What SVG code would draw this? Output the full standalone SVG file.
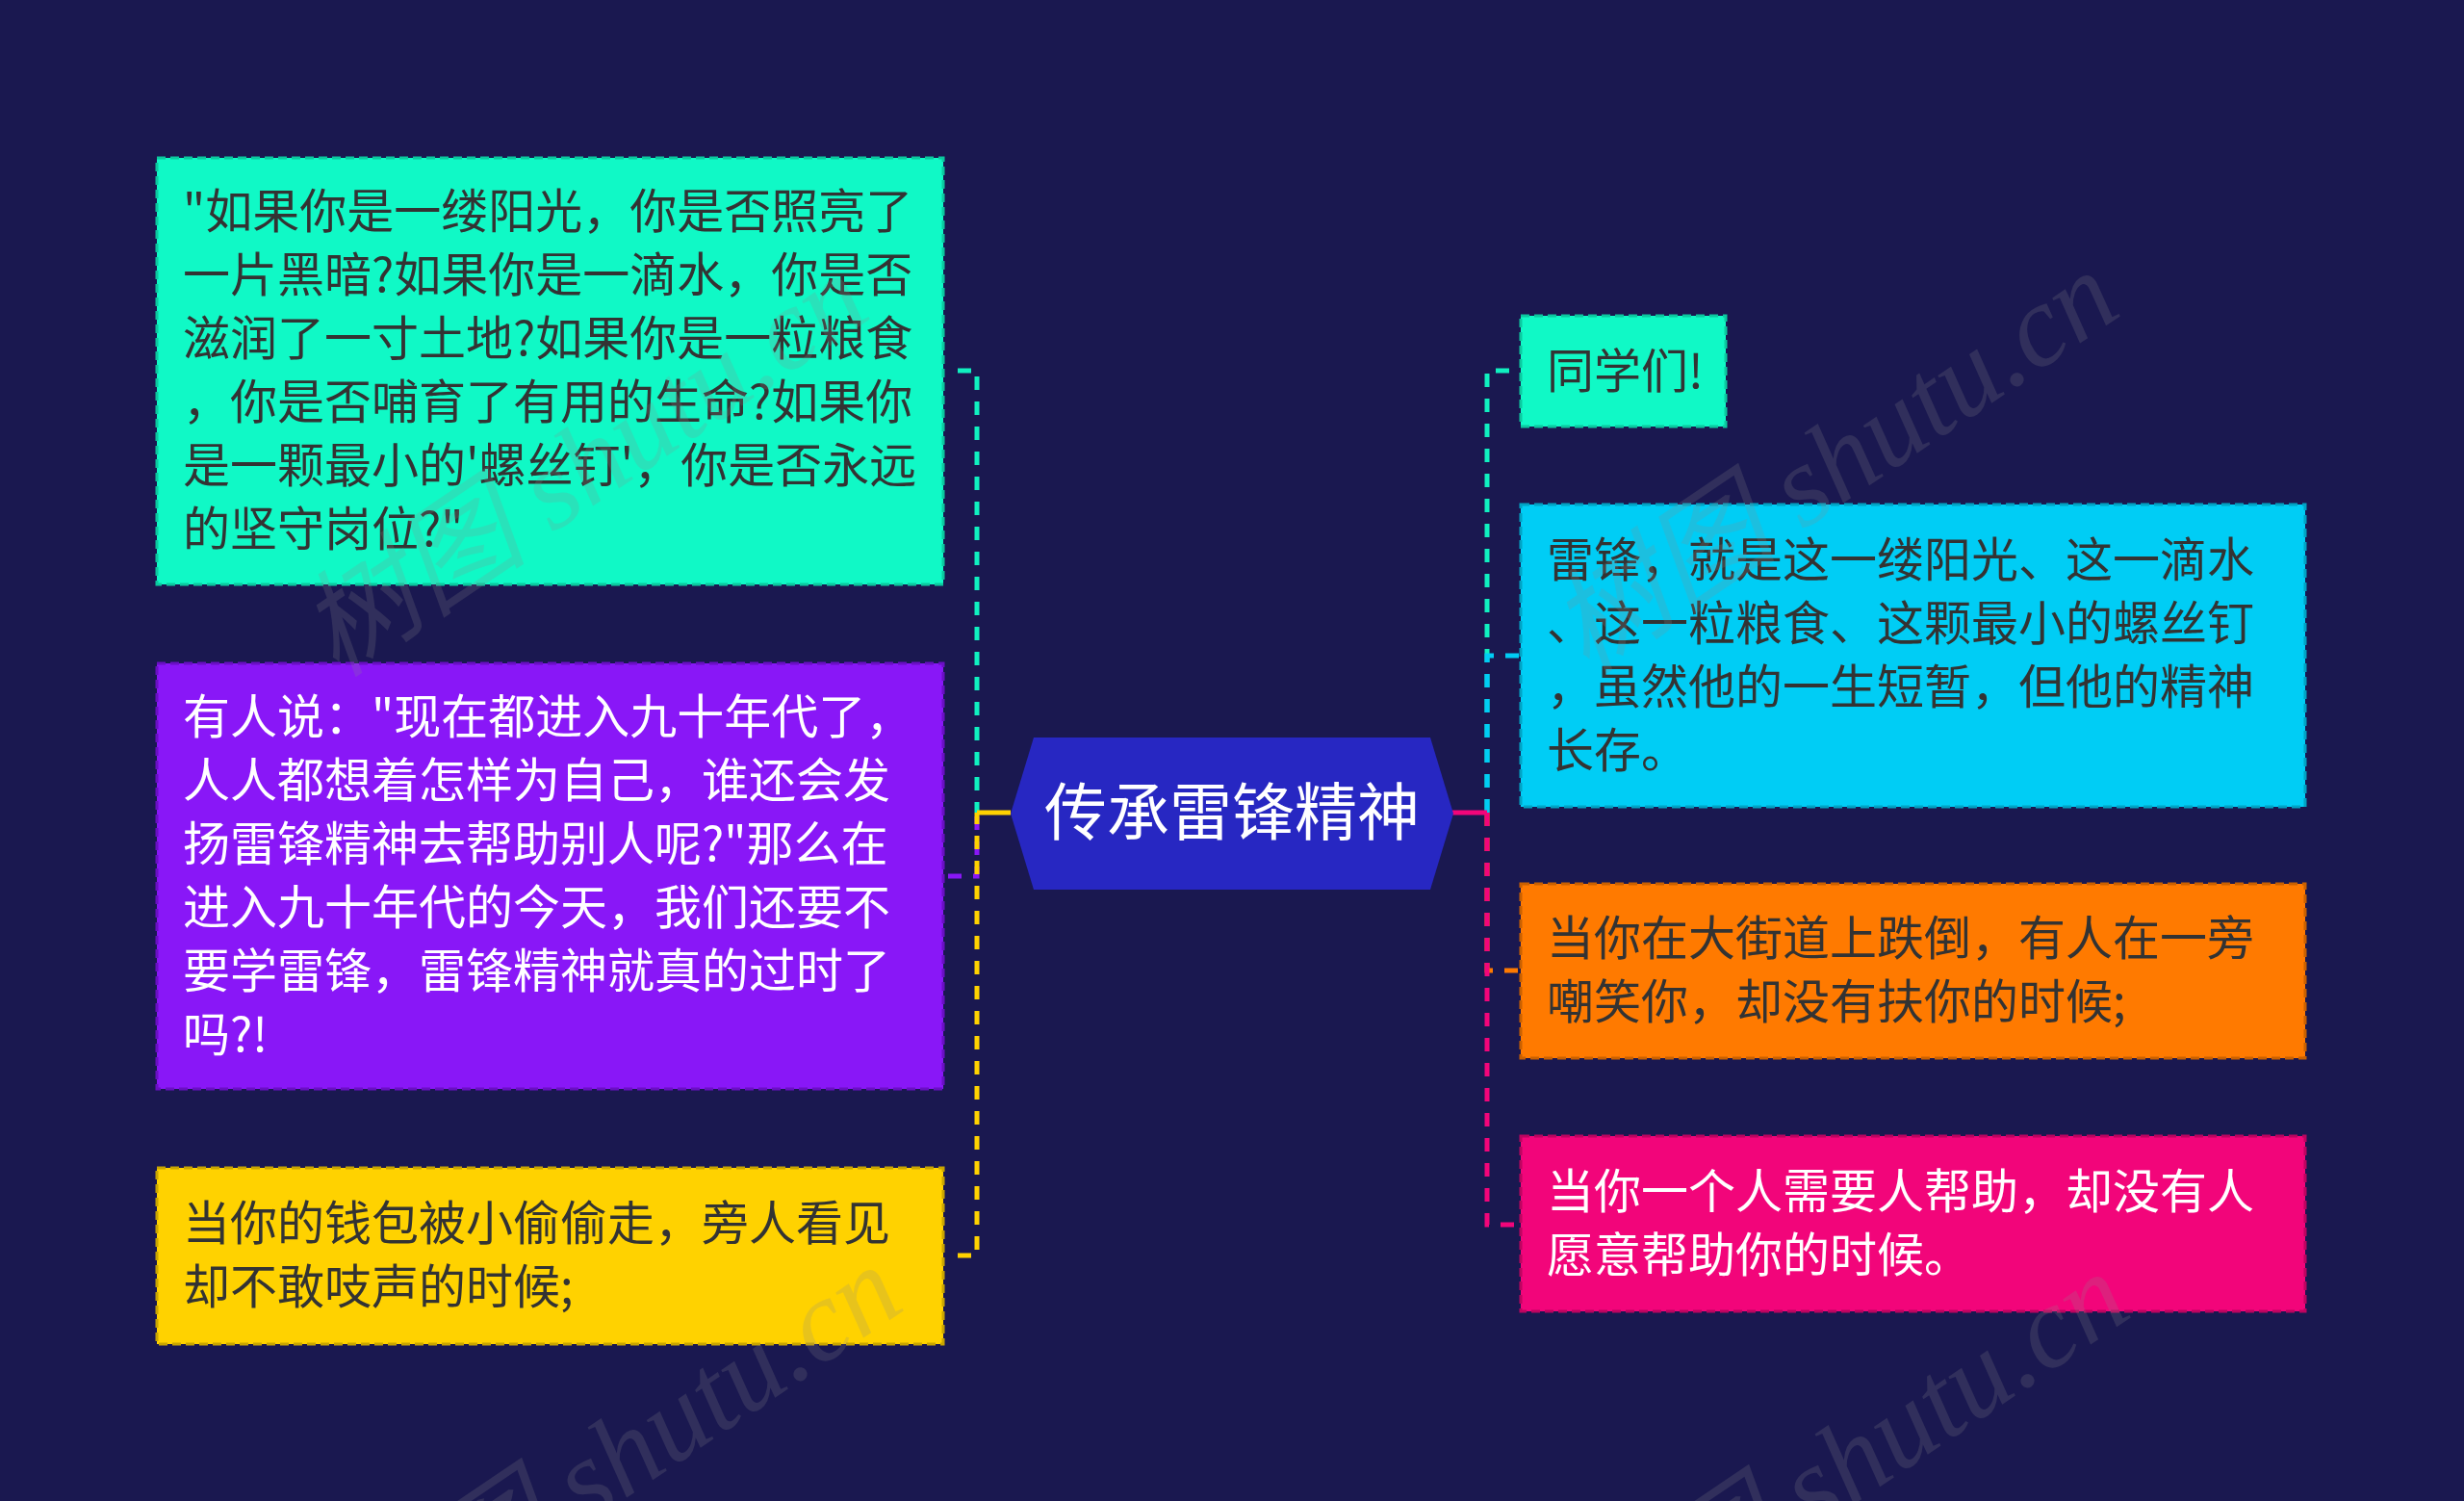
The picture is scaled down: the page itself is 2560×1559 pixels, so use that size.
<svg xmlns="http://www.w3.org/2000/svg" width="2560" height="1559" viewBox="0 0 2560 1559">
<defs>
<style>
.bg{fill:#1a1850}
.box{stroke-width:3;stroke-dasharray:9 5}
.t{font-family:"Noto Sans CJK SC","Noto Sans",sans-serif;font-size:49px}
.dk{fill:#333333}
.wt{fill:#ffffff}
.c{fill:none;stroke-width:5;stroke-dasharray:14 12}
.s{fill:none;stroke-width:5}
.wm{font-family:"Liberation Serif","Noto Sans CJK SC",serif;font-size:120px;font-style:italic;fill:#8c8c8c;opacity:0.2}
</style>
</defs>
<rect class="bg" x="0" y="0" width="2560" height="1559"/>

<g id="connectors">
<path class="c" stroke="#10f0c0" d="M995,385 H1015 V844"/>
<path class="c" stroke="#8917f7" d="M985,910 H1015 V844"/>
<path class="c" stroke="#ffd200" d="M995,1304 H1015 V844"/>
<path class="s" stroke="#ffd200" d="M1015,844 H1050"/>
<path class="c" stroke="#10f0c0" d="M1545,844 V385 H1580"/>
<path class="c" stroke="#00cdf5" d="M1545,844 V681 H1580"/>
<path class="c" stroke="#ff7a00" d="M1545,844 V1008 H1580"/>
<path class="c" stroke="#f2057a" d="M1545,844 V1272 H1580"/>
<path class="s" stroke="#f2057a" d="M1508,844 H1545"/>
</g>

<g id="center">
<polygon points="1050,845 1074,766 1486,766 1510,845 1486,924 1074,924" fill="#2727c2"/>
<text x="1280" y="867" text-anchor="middle" font-family="'Noto Sans CJK SC','Noto Sans',sans-serif" font-size="65" fill="#ffffff">传承雷锋精神</text>
</g>

<g id="node-l1">
<rect class="box" x="163" y="164" width="817" height="443" fill="#10f9c6" stroke="#0bc99f"/>
<text class="t dk" x="190"><tspan x="190" y="237">"如果你是一缕阳光，你是否照亮了</tspan><tspan x="190" y="303">一片黑暗?如果你是一滴水，你是否</tspan><tspan x="190" y="369">滋润了一寸土地?如果你是一粒粮食</tspan><tspan x="190" y="435">，你是否哺育了有用的生命?如果你</tspan><tspan x="190" y="501">是一颗最小的'螺丝钉'，你是否永远</tspan><tspan x="190" y="567">的坚守岗位?"</tspan></text>
</g>

<g id="node-l2">
<rect class="box" x="163" y="689" width="817" height="442" fill="#8917f7" stroke="#6a0fc4"/>
<text class="t wt" x="190"><tspan x="190" y="762">有人说："现在都进入九十年代了，</tspan><tspan x="190" y="828">人人都想着怎样为自己，谁还会发</tspan><tspan x="190" y="894">扬雷锋精神去帮助别人呢?"那么在</tspan><tspan x="190" y="960">进入九十年代的今天，我们还要不</tspan><tspan x="190" y="1026">要学雷锋，雷锋精神就真的过时了</tspan><tspan x="190" y="1092">吗?!</tspan></text>
</g>

<g id="node-l3">
<rect class="box" x="163" y="1213" width="817" height="183" fill="#ffd200" stroke="#c9a500"/>
<text class="t dk" x="190"><tspan x="190" y="1288">当你的钱包被小偷偷走，旁人看见</tspan><tspan x="190" y="1354">却不敢吱声的时候;</tspan></text>
</g>

<g id="node-r1">
<rect class="box" x="1580" y="328" width="213" height="115" fill="#10f9c6" stroke="#0bc99f"/>
<text class="t dk" x="1607" y="403">同学们!</text>
</g>

<g id="node-r2">
<rect class="box" x="1580" y="524" width="815" height="314" fill="#00cdf5" stroke="#00a3c4"/>
<text class="t dk" x="1607"><tspan x="1607" y="599">雷锋，就是这一缕阳光、这一滴水</tspan><tspan x="1607" y="665">、这一粒粮食、这颗最小的螺丝钉</tspan><tspan x="1607" y="731">，虽然他的一生短暂，但他的精神</tspan><tspan x="1607" y="797">长存。</tspan></text>
</g>

<g id="node-r3">
<rect class="box" x="1580" y="918" width="815" height="181" fill="#ff7a00" stroke="#c96000"/>
<text class="t dk" x="1607"><tspan x="1607" y="992">当你在大街道上跌倒，有人在一旁</tspan><tspan x="1607" y="1058">嘲笑你，却没有扶你的时候;</tspan></text>
</g>

<g id="node-r4">
<rect class="box" x="1580" y="1180" width="815" height="182" fill="#f2057a" stroke="#bd0460"/>
<text class="t wt" x="1607"><tspan x="1607" y="1255">当你一个人需要人帮助，却没有人</tspan><tspan x="1607" y="1321">愿意帮助你的时候。</tspan></text>
</g>

<g id="watermarks">
<text class="wm" transform="translate(350,705) rotate(-34)">树图 shutu.cn</text>
<text class="wm" transform="translate(1649,702) rotate(-34)">树图 shutu.cn</text>
<text class="wm" transform="translate(385,1735) rotate(-34)">树图 shutu.cn</text>
<text class="wm" transform="translate(1660,1742) rotate(-34)">树图 shutu.cn</text>
</g>
</svg>
